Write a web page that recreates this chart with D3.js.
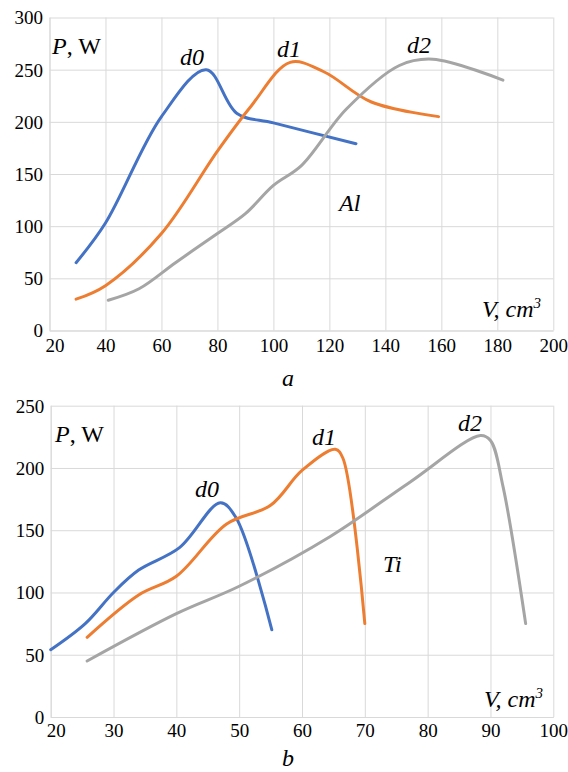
<!DOCTYPE html>
<html>
<head>
<meta charset="utf-8">
<script src="https://cdn.jsdelivr.net/npm/d3@7"></script>
<style>
  body { margin: 0; background: #fff; }
  svg { display: block; }
</style>
</head>
<body>
<script>
// panel a (Al): [V, P]
var alD0 = [[29.5,65],[40,103],[60,205],[76,250],[87,208],[100,199],[129.5,179]]
var alD1 = [[29.5,30],[40,43],[60,93],[80,172],[92,215],[106,257],[118,248],[135,219],[159,205]]
var alD2 = [[41,29],[52,40],[65,65],[80,93],[90,112],[100,139],[110,158],[126,212],[145,254],[157,260],[182,240]]

// panel b (Ti)
var tiD0 = [[20,54],[25.5,75],[30,100],[34,118],[40.5,136],[47,172],[49.5,160],[55.2,70]]
var tiD1 = [[25.8,64],[34,98],[40,113],[48,155],[55,170],[60,198],[65.3,215],[66.5,208],[70,75]]
var tiD2 = [[25.8,45],[40,83],[50,105],[64.5,145],[77,188],[88.4,226],[90,222],[92,185],[95.6,75]]

var xTicksA = [20,40,60,80,100,120,140,160,180,200]
var yTicksA = [0,50,100,150,200,250,300]
var xTicksB = [20,30,40,50,60,70,80,90,100]
var yTicksB = [0,50,100,150,200,250]

var seriesNames = ['d0','d1','d2']
var colors = ['#4472c4','#ed7d31','#a5a5a5']
var serif = '"Liberation Serif", "DejaVu Serif", "Times New Roman", serif'

var svg = d3.select('body').append('svg').attr('width', 568).attr('height', 772)
  .style('font-family', serif)

function panel(o){
  var x = d3.scaleLinear().domain(o.xDomain).range(o.xRange)
  var y = d3.scaleLinear().domain(o.yDomain).range(o.yRange)
  var g = svg.append('g')

  var gx = g.append('g').attr('transform', 'translate(0,' + o.yRange[0] + ')')
    .call(d3.axisBottom(x).tickValues(o.xTicks).tickSize(-(o.yRange[0] - o.yRange[1])).tickSizeOuter(0).tickPadding(o.xPad))
  var gy = g.append('g').attr('transform', 'translate(' + o.xRange[0] + ',0)')
    .call(d3.axisLeft(y).tickValues(o.yTicks).tickSize(-(o.xRange[1] - o.xRange[0])).tickSizeOuter(0).tickPadding(6.5))

  ;[gx, gy].forEach(function(a){
    a.attr('font-family', null).attr('font-size', null)
    a.selectAll('.domain').attr('stroke', '#d9d9d9')
    a.selectAll('.tick line').attr('stroke', '#d9d9d9')
    a.selectAll('.tick text').style('font-family', serif).style('font-size', '19px').attr('fill', '#000')
  })
  gy.selectAll('.tick text').attr('dy', '0.34em')
  // first x label sits a little right of its tick, as in the original
  gx.selectAll('.tick text').filter((d, i) => i == 0).attr('dx', 5)

  var line = d3.line().x(d => x(d[0])).y(d => y(d[1])).curve(d3.curveCatmullRom.alpha(0.5))
  o.series.forEach(function(s, i){
    g.append('path').attr('d', line(s)).attr('fill', 'none')
      .attr('stroke', colors[i]).attr('stroke-width', 3).attr('stroke-linecap', 'round')
  })

  function label(px, py, t){
    return g.append('text').attr('x', px).attr('y', py)
      .style('font-family', serif).style('font-size', '24px').style('font-style', 'italic').text(t)
  }

  // axis titles and labels
  var pw = label(o.pw[0], o.pw[1], null)
  pw.append('tspan').text('P')
  pw.append('tspan').style('font-style', 'normal').text(', W')

  var vc = label(o.vc[0], o.vc[1], null)
  vc.append('tspan').text('V, cm')
  vc.append('tspan').attr('dy', -9).style('font-size', '15px').text('3')

  o.names.forEach(function(p, i){ label(p[0], p[1], seriesNames[i]) })
  label(o.metal[0], o.metal[1], o.metal[2])
  label(o.cap[0], o.cap[1], o.cap[2])
}

panel({
  xDomain: [20, 200], xRange: [49.5, 553.3],
  yDomain: [0, 300], yRange: [330.5, 17.5],
  xTicks: xTicksA, yTicks: yTicksA, xPad: 8,
  series: [alD0, alD1, alD2],
  pw: [52, 54], vc: [482, 317],
  names: [[180, 65], [277, 57], [407, 53]],
  metal: [339, 211, 'Al'],
  cap: [282, 386, 'a']
})

panel({
  xDomain: [20, 100], xRange: [50.7, 553.3],
  yDomain: [0, 250], yRange: [717, 405.7],
  xTicks: xTicksB, yTicks: yTicksB, xPad: 6.5,
  series: [tiD0, tiD1, tiD2],
  pw: [55, 442], vc: [484, 707],
  names: [[195, 497], [312, 445], [458, 431]],
  metal: [383, 572, 'Ti'],
  cap: [282, 766, 'b']
})
</script>
</body>
</html>
